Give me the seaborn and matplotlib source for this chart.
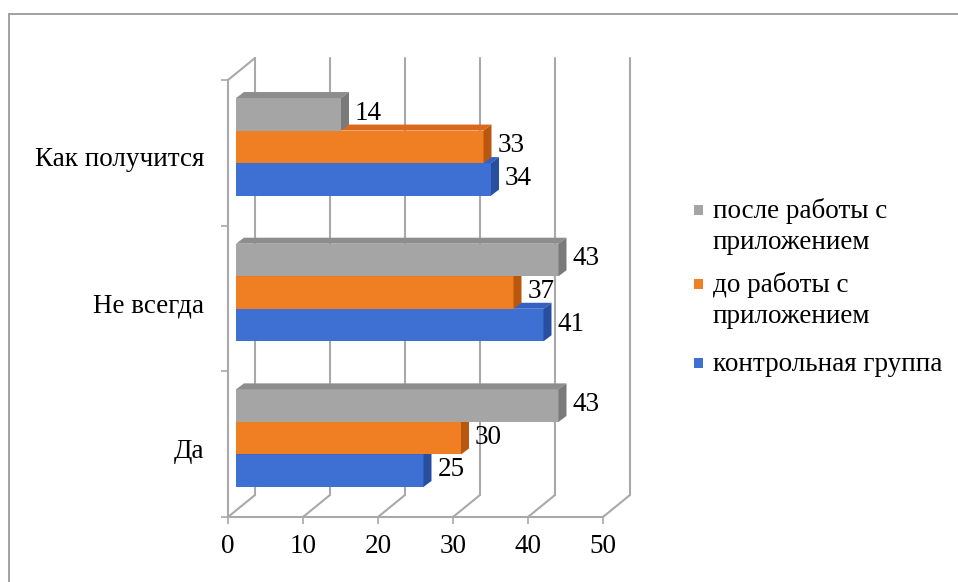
import numpy as np
import pandas as pd
import matplotlib
matplotlib.use("Agg")
import matplotlib.pyplot as plt
from matplotlib.colors import to_hex
from matplotlib.transforms import offset_copy, IdentityTransform, Affine2D
from matplotlib.patches import Polygon, Rectangle
from matplotlib.lines import Line2D
import seaborn as sns

# ---- data -------------------------------------------------------------
categories = ["Как получится", "Не всегда", "Да"]
series = ["после работы с\nприложением", "до работы с\nприложением", "контрольная группа"]
after_app = [14, 43, 43]
before_app = [33, 37, 30]
control = [34, 41, 25]
x_ticks = [0, 10, 20, 30, 40, 50]

# ---- styling -----------------------------------------------------------
front_colors = ["#a5a5a5", "#f07f24", "#3e6fd2"]
top_colors = ["#8d8d8d", "#d96a1b", "#3461c2"]
side_colors = ["#7a7a7a", "#b9570f", "#284f9f"]
grid_color = "#a9a9a9"
FS = 19.5

sns.set_theme(style="white")
plt.rcParams["font.family"] = ["Liberation Serif", "DejaVu Serif"]

W, H = 958, 582
fig = plt.figure(figsize=(W / 100, H / 100), dpi=100)
fig.patch.set_facecolor("white")

# front plane of the plot box (pixels from top-left)
x0_px, x1_px, ytop_px, ybot_px = 228, 603, 80, 517
ax = fig.add_axes([x0_px / W, 1 - ybot_px / H, (x1_px - x0_px) / W, (ybot_px - ytop_px) / H])
ax.set_facecolor("none")

df = pd.DataFrame({
    "category": categories * 3,
    "series": np.repeat(series, len(categories)),
    "value": after_app + before_app + control,
})
sns.barplot(data=df, x="value", y="category", hue="series", order=categories,
            hue_order=series, palette=front_colors, saturation=1, width=0.67,
            orient="h", legend=False, errorbar=None, ax=ax)
ax.set_xlim(0, 50)
ax.set_ylim(2.5, -0.5)
ax.set_xlabel("")
ax.set_ylabel("")

# pseudo-3D geometry in pixels
WALL = (27, 22)      # depth of the back wall
BAR_OFF = (8, 6)     # bars sit a little behind the front plane
BAR_DEPTH = (8, 6)   # thickness of each bar

wall_tr = offset_copy(ax.transData, fig=fig, x=WALL[0], y=WALL[1], units="dots")
bar_tr = offset_copy(ax.transData, fig=fig, x=BAR_OFF[0], y=BAR_OFF[1], units="dots")
label_tr = offset_copy(ax.transData, fig=fig, x=BAR_OFF[0] + 14, y=BAR_OFF[1] + 1, units="dots")

# back wall gridlines and floor diagonals
for t in x_ticks:
    ax.plot([t, t], [2.5, -0.5], transform=wall_tr, color=grid_color, lw=1.5,
            zorder=1, clip_on=False)
    fx, fy = ax.transData.transform((t, 2.5))
    ax.add_artist(Line2D([fx, fx + WALL[0]], [fy, fy + WALL[1]], transform=IdentityTransform(),
                         color=grid_color, lw=1.5, zorder=1, clip_on=False))
fx, fy = ax.transData.transform((0, -0.5))
ax.add_artist(Line2D([fx, fx + WALL[0]], [fy, fy + WALL[1]], transform=IdentityTransform(),
                     color=grid_color, lw=1.5, zorder=1, clip_on=False))

# bars: shift behind the front plane and add top/side faces
hex_front = [to_hex(c) for c in front_colors]
for p in list(ax.patches):
    si = hex_front.index(to_hex(p.get_facecolor()))
    yc = p.get_y() + p.get_height() / 2
    z = 2 + (3 - yc)
    p.set_transform(bar_tr)
    p.set_zorder(z)
    p.set_edgecolor("none")
    p.set_clip_on(False)
    (xl, ya), (xr, yb_) = bar_tr.transform([(p.get_x(), p.get_y()),
                                             (p.get_x() + p.get_width(), p.get_y() + p.get_height())])
    yl, yt = min(ya, yb_), max(ya, yb_)
    dx, dy = BAR_DEPTH
    top = Polygon([(xl, yt), (xr, yt), (xr + dx, yt + dy), (xl + dx, yt + dy)],
                  closed=True, transform=IdentityTransform(), facecolor=top_colors[si],
                  edgecolor="none", zorder=z, clip_on=False)
    side = Polygon([(xr, yl), (xr, yt), (xr + dx, yt + dy), (xr + dx, yl + dy)],
                   closed=True, transform=IdentityTransform(), facecolor=side_colors[si],
                   edgecolor="none", zorder=z, clip_on=False)
    ax.add_artist(top)
    ax.add_artist(side)
    ax.text(p.get_width(), yc, f"{p.get_width():.0f}", transform=label_tr,
            ha="left", va="center", fontsize=FS, color="black", zorder=10, clip_on=False)

# axes lines and ticks
for s in ["top", "right"]:
    ax.spines[s].set_visible(False)
for s in ["left", "bottom"]:
    ax.spines[s].set_color(grid_color)
    ax.spines[s].set_linewidth(1.5)
ax.set_xticks(x_ticks, [str(t) for t in x_ticks])
ax.set_yticks([0, 1, 2], categories)
ax.set_yticks([-0.5, 0.5, 1.5, 2.5], minor=True)
ax.tick_params(axis="x", which="major", length=5, width=1.2, color=grid_color,
               direction="out", pad=7, labelsize=FS, labelcolor="black", bottom=True)
ax.tick_params(axis="y", which="major", length=0, pad=17, labelsize=FS, labelcolor="black", left=True)
ax.tick_params(axis="y", which="minor", length=5, width=1.2, color=grid_color,
               direction="out", left=True)
for lab in ax.get_yticklabels():
    lab.set_transform(lab.get_transform() + Affine2D().translate(0, -4))
ax.grid(False)

# chart area border
fig.add_artist(Line2D([9 / W, 9 / W], [0, 1 - 14 / H], transform=fig.transFigure,
                      color="#9a9a9a", lw=1.3))
fig.add_artist(Line2D([9 / W, 1], [1 - 14 / H, 1 - 14 / H], transform=fig.transFigure,
                      color="#9a9a9a", lw=1.3))

# legend
leg_sq_x, leg_txt_x = 694, 713
first_baselines = [218, 292, 371]
line_step = 31
for label, color, yb in zip(series, front_colors, first_baselines):
    fig.add_artist(Rectangle((leg_sq_x, H - yb + 3), 9, 10, transform=IdentityTransform(),
                             facecolor=color, edgecolor="none"))
    for k, line in enumerate(label.split("\n")):
        fig.text(leg_txt_x / W, 1 - (yb + k * line_step) / H, line, ha="left",
                 va="baseline", fontsize=FS, color="black")

fig.savefig("out.png", dpi=100)
